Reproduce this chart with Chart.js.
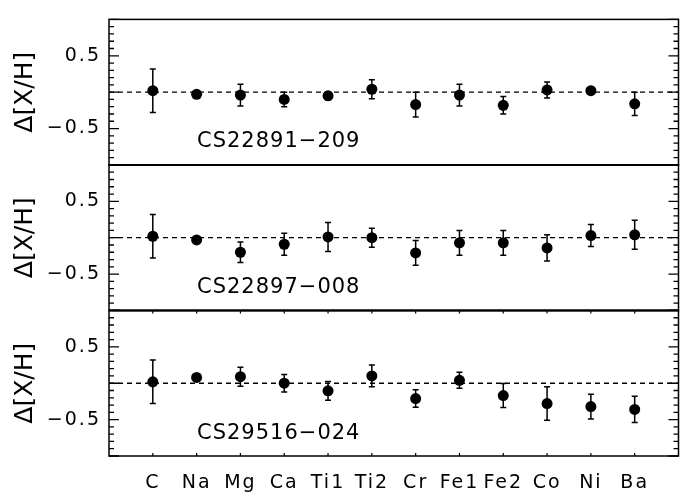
<!DOCTYPE html>
<html>
<head>
<meta charset="utf-8">
<script src="https://cdn.jsdelivr.net/npm/chart.js@4.4.1/dist/chart.umd.min.js"></script>
<style>
  html, body { margin: 0; background: #fff; overflow: hidden; }
  /* the right frame edge falls just past the 680px window, as in the original */
  .abundance-container { width: 684px; height: 500px; }
</style>
</head>
<body>
<div class="abundance-container"><canvas id="abundances"></canvas></div>
<script>
const elements = ['C', 'Na', 'Mg', 'Ca', 'Ti1', 'Ti2', 'Cr', 'Fe1', 'Fe2', 'Co', 'Ni', 'Ba'];
const stars = ['CS22891-209', 'CS22897-008', 'CS29516-024'];

const delta209 = [0.02, -0.03, -0.04, -0.10, -0.05, 0.04, -0.17, -0.04, -0.18, 0.03, 0.02, -0.16];
const err209   = [0.30, 0.03, 0.15, 0.10, 0.05, 0.13, 0.17, 0.15, 0.12, 0.11, 0.02, 0.16];
const delta008 = [0.02, -0.03, -0.20, -0.09, 0.01, 0.00, -0.21, -0.07, -0.07, -0.14, 0.03, 0.04];
const err008   = [0.30, 0.03, 0.14, 0.15, 0.20, 0.13, 0.17, 0.17, 0.17, 0.18, 0.15, 0.20];
const delta024 = [0.02, 0.08, 0.09, 0.00, -0.105, 0.10, -0.21, 0.04, -0.17, -0.28, -0.32, -0.36];
const err024   = [0.30, 0.03, 0.13, 0.12, 0.13, 0.15, 0.12, 0.11, 0.165, 0.23, 0.17, 0.18];

const yTicks = [-0.5, 0.5];
const yTitle = 'Δ[X/H]';

const panelValues = [delta209, delta008, delta024];
const panelErrors = [err209, err008, err024];
const panelAxes = ['yTop', 'yMid', 'yBot'];

const FONT = 'DejaVu Sans';

// error bars, zero lines, frame, inward ticks, panel names
const panelDecor = {
  id: 'panelDecor',
  beforeDraw(chart) {
    chart.ctx.letterSpacing = '2px';
  },
  beforeDatasetsDraw(chart) {
    const { ctx, chartArea, scales } = chart;
    const xs = scales.x;
    ctx.save();
    ctx.strokeStyle = '#000';
    panelAxes.forEach((id, p) => {
      const ys = scales[id];
      // dashed zero line
      ctx.lineWidth = 1.3;
      ctx.setLineDash([5, 4]);
      ctx.beginPath();
      ctx.moveTo(chartArea.left, ys.getPixelForValue(0));
      ctx.lineTo(chartArea.right, ys.getPixelForValue(0));
      ctx.stroke();
      ctx.setLineDash([]);
      // error bars
      ctx.lineWidth = 1.5;
      panelValues[p].forEach((v, i) => {
        const x = xs.getPixelForValue(i + 1);
        const y0 = ys.getPixelForValue(v - panelErrors[p][i]);
        const y1 = ys.getPixelForValue(v + panelErrors[p][i]);
        ctx.beginPath();
        ctx.moveTo(x, y0); ctx.lineTo(x, y1);
        ctx.moveTo(x - 3, y0); ctx.lineTo(x + 3, y0);
        ctx.moveTo(x - 3, y1); ctx.lineTo(x + 3, y1);
        ctx.stroke();
      });
    });
    ctx.restore();
  },
  afterDraw(chart) {
    const { ctx, chartArea, scales } = chart;
    const xs = scales.x;
    const { left, right } = chartArea;
    ctx.save();
    ctx.strokeStyle = '#000';
    ctx.fillStyle = '#000';
    panelAxes.forEach((id, p) => {
      const ys = scales[id];
      const top = ys.top, bottom = ys.bottom;
      // frame
      ctx.lineWidth = 1.5;
      ctx.strokeRect(left, top, right - left, bottom - top);
      // inward y ticks every 0.1, long every 0.5
      ctx.lineWidth = 1.3;
      for (let k = -10; k <= 10; k++) {
        const y = ys.getPixelForValue(k / 10);
        const len = k % 5 === 0 ? 10 : 5;
        ctx.beginPath();
        ctx.moveTo(left, y); ctx.lineTo(left + len, y);
        ctx.moveTo(right - len, y); ctx.lineTo(right, y);
        ctx.stroke();
      }
      // y title
      ctx.save();
      ctx.letterSpacing = '0px';
      ctx.font = '25px "' + FONT + '"';
      ctx.textAlign = 'center';
      ctx.textBaseline = 'alphabetic';
      ctx.translate(32, ys.getPixelForValue(0));
      ctx.rotate(-Math.PI / 2);
      ctx.fillText(yTitle, 0, 0);
      ctx.restore();
      // star name
      ctx.letterSpacing = '1px';
      ctx.font = '21px "' + FONT + '"';
      ctx.textAlign = 'left';
      ctx.textBaseline = 'alphabetic';
      ctx.fillText(stars[p].replace('-', '\u2212'), 197, ys.getPixelForValue(-0.76));
    });
    // x ticks on bottom panel
    const yb = scales.yBot;
    ctx.lineWidth = 1.2;
    elements.forEach((e, i) => {
      const x = xs.getPixelForValue(i + 1);
      ctx.beginPath();
      ctx.moveTo(x, yb.bottom); ctx.lineTo(x, yb.bottom - 3);
      ctx.moveTo(x, yb.top); ctx.lineTo(x, yb.top + 3);
      ctx.stroke();
    });
    // panel separators a little heavier
    ctx.lineWidth = 2;
    [scales.yMid.top, scales.yBot.top].forEach(y => {
      ctx.beginPath();
      ctx.moveTo(left, y); ctx.lineTo(right, y);
      ctx.stroke();
    });
    ctx.restore();
  }
};

function panelAxis() {
  return {
    type: 'linear',
    position: 'left',
    stack: 'panels',
    stackWeight: 1,
    min: -1,
    max: 1,
    afterFit: (scale) => { scale.width = 109; },
    afterBuildTicks: (scale) => { scale.ticks = yTicks.map(v => ({ value: v })); },
    grid: { display: false, drawTicks: false },
    border: { display: false },
    ticks: {
      padding: 8,
      color: '#000',
      font: { family: FONT, size: 19 },
      callback: (v) => (v < 0 ? '\u2212' + Math.abs(v) : String(v))
    }
  };
}

const datasets = panelAxes.map((id, p) => ({
  type: 'scatter',
  yAxisID: id,
  data: elements.map((e, i) => ({ x: i + 1, y: panelValues[p][i] })),
  pointRadius: 5.5,
  pointHoverRadius: 5.5,
  pointBackgroundColor: '#000',
  pointBorderWidth: 0
}));

new Chart(document.getElementById('abundances'), {
  type: 'scatter',
  data: { datasets },
  options: {
    responsive: true,
    maintainAspectRatio: false,
    animation: false,
    layout: { padding: { top: 7, right: 1, left: 0, bottom: 0 } },
    scales: {
      x: {
        type: 'linear',
        position: 'bottom',
        min: 0,
        max: 13,
        afterFit: (scale) => { scale.height = 44; },
        afterBuildTicks: (scale) => { scale.ticks = elements.map((e, i) => ({ value: i + 1 })); },
        grid: { display: false, drawTicks: false },
        border: { display: false },
        ticks: {
          padding: 16,
          maxRotation: 0,
          autoSkip: false,
          color: '#000',
          font: { family: FONT, size: 19 },
          callback: (v) => elements[v - 1] || ''
        }
      },
      // stacked axes are laid out last-first, so the bottom panel comes first
      yBot: panelAxis(),
      yMid: panelAxis(),
      yTop: panelAxis()
    },
    plugins: {
      legend: { display: false },
      tooltip: { enabled: false }
    }
  },
  plugins: [panelDecor]
});
</script>
</body>
</html>
